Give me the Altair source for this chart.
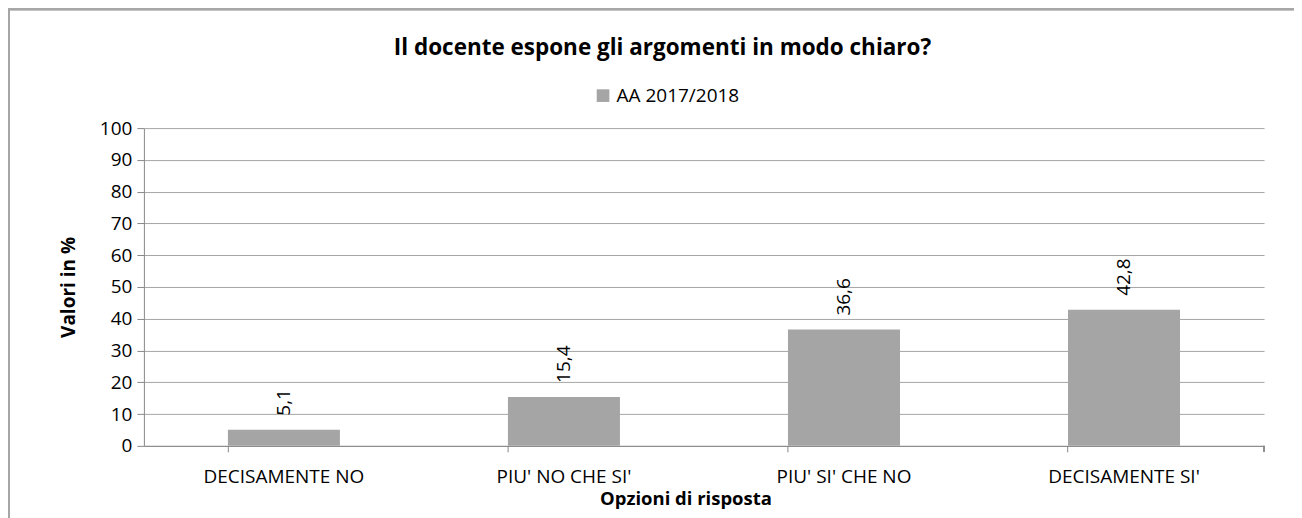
import altair as alt
import pandas as pd

categories = ["DECISAMENTE NO", "PIU' NO CHE SI'", "PIU' SI' CHE NO", "DECISAMENTE SI'"]
values = [5.1, 15.4, 36.6, 42.8]
series_name = "AA 2017/2018"
chart_title = "Il docente espone gli argomenti in modo chiaro?"
y_ticks = list(range(0, 101, 10))

df = pd.DataFrame({
    "cat": categories,
    "val": values,
    "label": [f"{v:.1f}".replace(".", ",") for v in values],
    "serie": [series_name] * len(values),
})
title_df = pd.DataFrame({"t": [chart_title]})

FONT = "Open Sans"
W, H = 1121, 318
GRAY = "#A5A5A5"
FS = 19

x_enc = alt.X("cat:N", sort=categories,
              scale=alt.Scale(paddingInner=0.6, paddingOuter=0.3),
              axis=alt.Axis(title="Opzioni di risposta", labelAngle=0, bandPosition=0,
                            grid=False, domainColor="#888888", tickColor="#888888",
                            tickSize=6, labelPadding=16, labelFontSize=FS,
                            titleFontSize=18.5, titleFontWeight="bold", titlePadding=3,
                            titleX=542, titleAlign="center",
                            labelColor="#000000", titleColor="#000000",
                            labelFont=FONT, titleFont=FONT))

y_enc = alt.Y("val:Q", scale=alt.Scale(domain=[0, 100], nice=False),
              axis=alt.Axis(title="Valori in %", values=y_ticks, grid=True, labelOverlap=False,
                            gridColor="#A6A6A6", domainColor="#888888", tickColor="#888888",
                            tickSize=7, labelFontSize=FS, labelPadding=5,
                            titleFontSize=19, titleFontWeight="bold", titlePadding=21,
                            labelColor="#000000", titleColor="#000000",
                            labelFont=FONT, titleFont=FONT))

bars = alt.Chart(df).mark_bar(color=GRAY).encode(
    x=x_enc,
    y=y_enc,
    color=alt.Color("serie:N", scale=alt.Scale(range=[GRAY]),
                    legend=alt.Legend(title=None, orient="none", legendX=450, legendY=-42,
                                      symbolType="square", symbolSize=160,
                                      symbolStrokeWidth=0, labelFontSize=FS,
                                      labelFont=FONT, labelColor="#000000")),
)

text = alt.Chart(df).mark_text(angle=270, align="left", baseline="middle", dx=14,
                               fontSize=FS, font=FONT, color="#000000").encode(
    x=x_enc,
    y=y_enc,
    text="label:N",
)

title_mark = alt.Chart(title_df).mark_text(fontSize=22.5, fontWeight="bold", font=FONT,
                                           color="#000000", baseline="alphabetic",
                                           align="center").encode(
    x=alt.value(519), y=alt.value(-73), text="t:N")

end_tick = alt.Chart(df).mark_rule(color="#888888").encode(
    x=alt.value(W), y=alt.value(H), y2=alt.value(H + 6))

border = alt.Chart(df).mark_rect(fill=None, stroke="#A6A6A6", strokeWidth=2, clip=False).encode(
    x=alt.value(-135), x2=alt.value(W + 60), y=alt.value(-119), y2=alt.value(H + 90))

chart = alt.layer(border, bars, text, end_tick, title_mark).properties(
    width=W, height=H,
    autosize=alt.AutoSizeParams(type="none"),
    padding={"left": 136, "top": 120, "right": 30, "bottom": 80},
).configure_view(stroke=None)

chart.save("out.html", embed_options={"renderer": "svg", "actions": False})
